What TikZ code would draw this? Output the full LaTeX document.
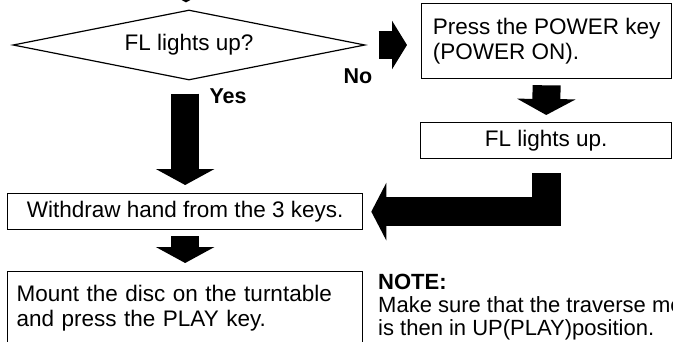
\documentclass[tikz,border=0pt]{standalone}
\usepackage{fontspec}
\setmainfont{Liberation Sans}
\usepackage{tikz}
\usetikzlibrary{positioning,shapes.geometric,arrows.meta,calc}

\begin{document}
\begin{tikzpicture}[x=1pt, y=-1pt,
  box/.style={draw, line width=1.3pt, inner sep=0pt, font=\fontsize{22.5}{25}\selectfont},
  blockarrow/.style={line width=28pt, -{Triangle[width=58pt, length=16pt]}},
  lbl/.style={font=\fontsize{21.5}{25}\selectfont\bfseries}]

\useasboundingbox (0,0) rectangle (673,341);

% Decision
\node[diamond, draw, line width=1.2pt, aspect=5, minimum width=352pt, minimum height=70pt,
      inner sep=0pt, font=\fontsize{22.5}{25}\selectfont] (lit) at (189,45) {FL lights up?};
\coordinate (from) at (186,-30);
\draw[blockarrow, shorten >=7pt] (from) -- (from |- lit.north);

% Right column
\node[box, anchor=north west, minimum width=250pt, minimum height=75pt,
      align=left] (power) at (421,3) {Press the POWER key\\(POWER ON).};
\node[box, anchor=north west, minimum width=251pt, minimum height=36pt] (fl) at (420,122) {FL lights up.};

% Left column
\node[box, anchor=north west, minimum width=355pt, minimum height=36pt] (withdraw) at (7,193)
  {Withdraw hand from the 3 keys.};
\node[box, anchor=north west, minimum width=355pt, minimum height=74pt,
      text width=337pt, align=left] (mount) at (7,271)
  {Mount the disc on the turntable\\and press the PLAY key.};

% Note
\node[anchor=north west, align=left, inner sep=0pt, font=\fontsize{22}{23}\selectfont] (note) at (378,274)
  {\textbf{NOTE:}\\Make sure that the traverse me\\is then in UP(PLAY)position.};

% Yes branch
\draw[blockarrow, shorten <=13pt, shorten >=8pt] (withdraw.north |- lit.south) -- (withdraw.north);
\node[lbl, anchor=west] (yes) at (206,96) {Yes};

% No branch
\draw[blockarrow, -{Triangle[width=48pt, length=15pt]}, shorten <=13pt, shorten >=14pt]
  (lit.east) -- (lit.east -| power.west);
\node[lbl] (no) at (358,76) {No};

\draw[blockarrow, shorten <=6pt, shorten >=7pt] (power.south) -- (fl.north);
\draw[blockarrow, line width=29pt, -{Triangle[width=57pt, length=15pt]}, shorten <=14pt, shorten >=8pt]
  (fl.south) |- (withdraw.east);

% On to play
\draw[blockarrow, shorten <=6pt, shorten >=8pt] (withdraw.south) -- (mount.north);

\end{tikzpicture}
\end{document}
